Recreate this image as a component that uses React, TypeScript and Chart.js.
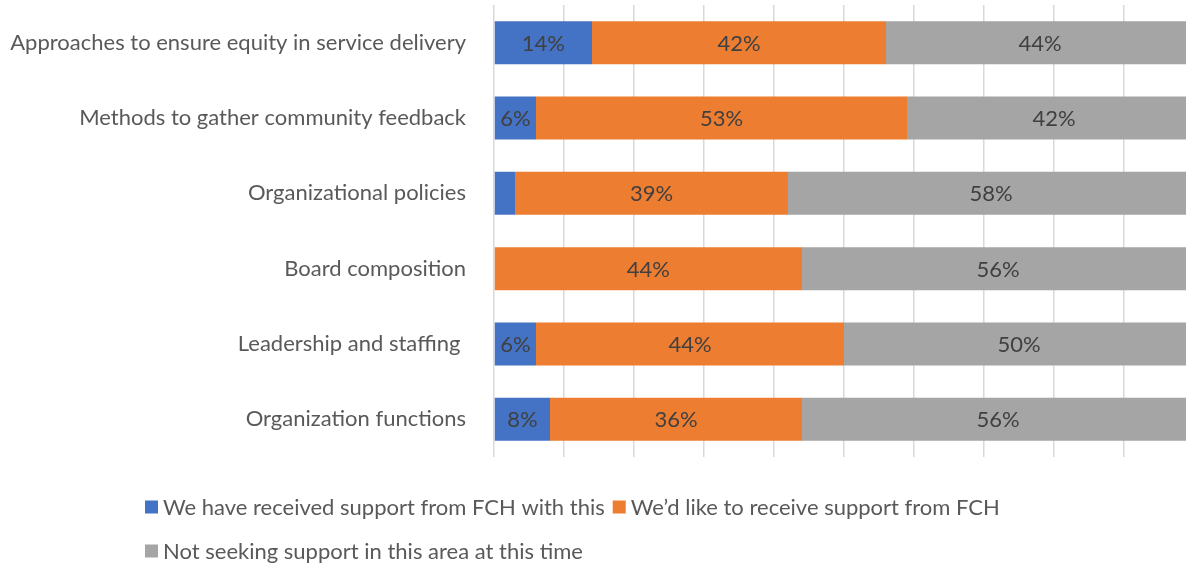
import React, { useEffect, useRef } from "react";
import { Chart, registerables } from "chart.js";
Chart.register(...registerables);

const categories = [
  "Approaches to ensure equity in service delivery",
  "Methods to gather community feedback",
  "Organizational policies",
  "Board composition",
  "Leadership and staffing ",
  "Organization functions",
];
const seriesNames = [
  "We have received support from FCH with this",
  "We\u2019d like to receive support from FCH",
  "Not seeking support in this area at this time",
];
const received = [14, 6, 3, 0, 6, 8];
const wouldLike = [42, 53, 39, 44, 44, 36];
const notSeeking = [44, 42, 58, 56, 50, 56];
const seriesColors = ["#4472C4", "#ED7D31", "#A5A5A5"];

const FONT = "Lato, 'Open Sans', sans-serif";
const FS = 22;

const labelPlugin = {
  id: "segLabels",
  afterDatasetsDraw(chart: any) {
    const ctx = chart.ctx;
    ctx.save();
    ctx.font = `${FS}px ${FONT}`;
    ctx.fillStyle = "#404040";
    ctx.textAlign = "center";
    ctx.textBaseline = "middle";
    chart.data.datasets.forEach((ds: any, di: number) => {
      const meta = chart.getDatasetMeta(di);
      meta.data.forEach((el: any, i: number) => {
        const v = ds.data[i];
        if (!v || v < 5) return;
        const p = el.getProps(["x", "y", "base"], true);
        ctx.fillText(`${v}%`, (p.x + p.base) / 2, p.y + 1);
      });
    });
    ctx.restore();
  },
};

const legendPlugin = {
  id: "customLegend",
  afterDraw(chart: any) {
    const ctx = chart.ctx;
    ctx.save();
    ctx.font = `${FS}px ${FONT}`;
    ctx.textBaseline = "middle";
    ctx.textAlign = "left";
    const box = 13;
    const drawItem = (i: number, x: number, y: number) => {
      ctx.fillStyle = seriesColors[i];
      ctx.fillRect(x, y - box / 2, box, box);
      ctx.fillStyle = "#595959";
      ctx.fillText(seriesNames[i], x + 18, y + 1);
      return x + 18 + ctx.measureText(seriesNames[i]).width;
    };
    const end1 = drawItem(0, 145, 507);
    drawItem(1, end1 + 8, 507);
    drawItem(2, 145, 551);
    ctx.restore();
  },
};

export default function App() {
  const ref = useRef<HTMLCanvasElement>(null);
  useEffect(() => {
    if (!ref.current) return;
    const chart = new Chart(ref.current, {
      type: "bar",
      data: {
        labels: categories,
        datasets: [received, wouldLike, notSeeking].map((d, i) => ({
          label: seriesNames[i],
          data: d,
          backgroundColor: seriesColors[i],
          borderWidth: 0,
          categoryPercentage: 1,
          barPercentage: 0.571,
        })),
      },
      options: {
        indexAxis: "y",
        responsive: false,
        animation: false,
        devicePixelRatio: 1,
        layout: { padding: { top: 5, bottom: 109, left: 0, right: 0 } },
        plugins: {
          legend: { display: false },
          title: { display: false },
          tooltip: { enabled: false },
        },
        scales: {
          x: {
            stacked: true,
            min: 0,
            max: 100,
            ticks: { display: false, stepSize: 10 },
            grid: { color: "#d9d9d9", lineWidth: 1.5, drawTicks: false },
            border: { display: false },
            afterFit(scale: any) {
              scale.height = 0;
              scale.paddingLeft = 0;
              scale.paddingRight = 0;
            },
          },
          y: {
            stacked: true,
            grid: { display: false, drawTicks: false },
            border: { display: false },
            ticks: {
              color: "#595959",
              font: { family: FONT, size: FS },
              padding: 28,
            },
            afterFit(scale: any) {
              scale.width = 494;
              scale.paddingTop = 0;
              scale.paddingBottom = 0;
            },
          },
        },
      },
      plugins: [labelPlugin, legendPlugin],
    });
    return () => chart.destroy();
  }, []);
  return (
    <div
      style={{
        position: "absolute",
        left: 0,
        top: 0,
        width: 1186,
        height: 566,
        overflow: "hidden",
        background: "#fff",
      }}
    >
      <canvas ref={ref} width={1194} height={566} />
    </div>
  );
}
